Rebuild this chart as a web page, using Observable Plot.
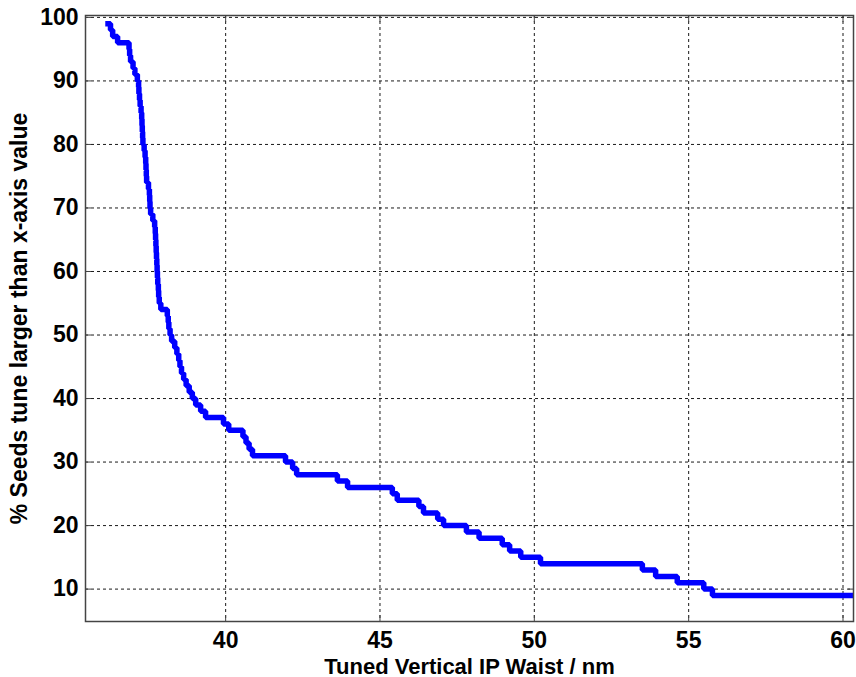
<!DOCTYPE html>
<html><head><meta charset="utf-8">
<script src="https://cdn.jsdelivr.net/npm/d3@7"></script>
<script src="https://cdn.jsdelivr.net/npm/@observablehq/plot@0.6"></script>
<style>body{margin:0;background:#fff} svg{display:block}</style>
</head><body><div id="chart"></div>
<script>
// Tuned vertical IP waist (nm) where the survival curve steps down, and % of seeds above it
const waist = [36.19,36.27,36.34,36.50,36.87,36.89,36.92,37.00,37.06,37.14,
  37.18,37.19,37.21,37.23,37.26,37.28,37.29,37.30,37.31,37.32,
  37.36,37.39,37.41,37.42,37.43,37.44,37.50,37.53,37.54,37.55,
  37.57,37.64,37.70,37.72,37.73,37.74,37.75,37.76,37.77,37.78,
  37.79,37.80,37.82,37.83,37.85,37.90,38.11,38.14,38.16,38.20,
  38.25,38.35,38.42,38.48,38.52,38.57,38.64,38.72,38.82,38.92,
  39.03,39.19,39.35,39.93,40.10,40.56,40.66,40.76,40.87,41.94,
  42.17,42.30,43.62,43.95,45.40,45.56,46.26,46.41,46.87,47.06,
  47.80,48.21,48.96,49.20,49.56,50.20,53.50,53.93,54.63,55.49,
  55.77,60.40];
const pct = [99,98,97,96,95,94,93,92,91,90,
  89,88,87,86,85,84,83,82,81,80,
  79,78,77,76,75,74,73,72,71,70,
  69,68,67,66,65,64,63,62,61,60,
  59,58,57,56,55,54,53,52,51,50,
  49,48,47,46,45,44,43,42,41,40,
  39,38,37,36,35,34,33,32,31,30,
  29,28,27,26,25,24,23,22,21,20,
  19,18,17,16,15,14,13,12,11,10,
  9,9];
const xTicks = [40,45,50,55,60];
const yTicks = [10,20,30,40,50,60,70,80,90,100];
const xLabel = "Tuned Vertical IP Waist / nm";
const yLabel = "% Seeds tune larger than x-axis value";

const data = waist.map((x, i) => ({x, y: pct[i]}));
const font = {fontSize: 23, fontWeight: "bold", fill: "#000"};

const chart = Plot.plot({
  width: 856, height: 677,
  marginLeft: 85, marginRight: 3, marginTop: 15, marginBottom: 56,
  style: {fontFamily: "'Liberation Sans', Arial, sans-serif", fontWeight: "bold", color: "#000", background: "#fff"},
  x: {domain: [35.46, 60.34]},
  y: {domain: [4.9, 100.3]},
  marks: [
    Plot.gridX(xTicks, {stroke: "#000", strokeOpacity: 0.9, strokeDasharray: "3,3"}),
    Plot.gridY(yTicks, {stroke: "#000", strokeOpacity: 0.9, strokeDasharray: "3,3"}),
    Plot.line(data, {x: "x", y: "y", curve: "step-after", stroke: "#0000ff", strokeWidth: 5.5, strokeLinejoin: "miter", strokeLinecap: "square", clip: true}),
    Plot.frame({stroke: "#444", strokeWidth: 1.5}),
    Plot.axisX(xTicks, {...font, tickSize: -6, tickPadding: 16, stroke: "#444", label: null}),
    Plot.axisX(xTicks, {fontSize: 22, fontWeight: "bold", fill: "#000", tickSize: 0, tickFormat: () => "", label: xLabel, labelAnchor: "center", labelArrow: "none", labelOffset: 52}),
    Plot.axisX(xTicks, {anchor: "top", tickSize: -6, stroke: "#444", tickFormat: () => "", label: null}),
    Plot.axisY(yTicks, {...font, tickSize: -6, tickPadding: 13, stroke: "#444", label: yLabel, labelAnchor: "center", labelArrow: "none", labelOffset: 75}),
    Plot.axisY(yTicks, {anchor: "right", tickSize: -6, stroke: "#444", tickFormat: () => "", label: null})
  ]
});
document.getElementById("chart").append(chart);
</script>
</body></html>
